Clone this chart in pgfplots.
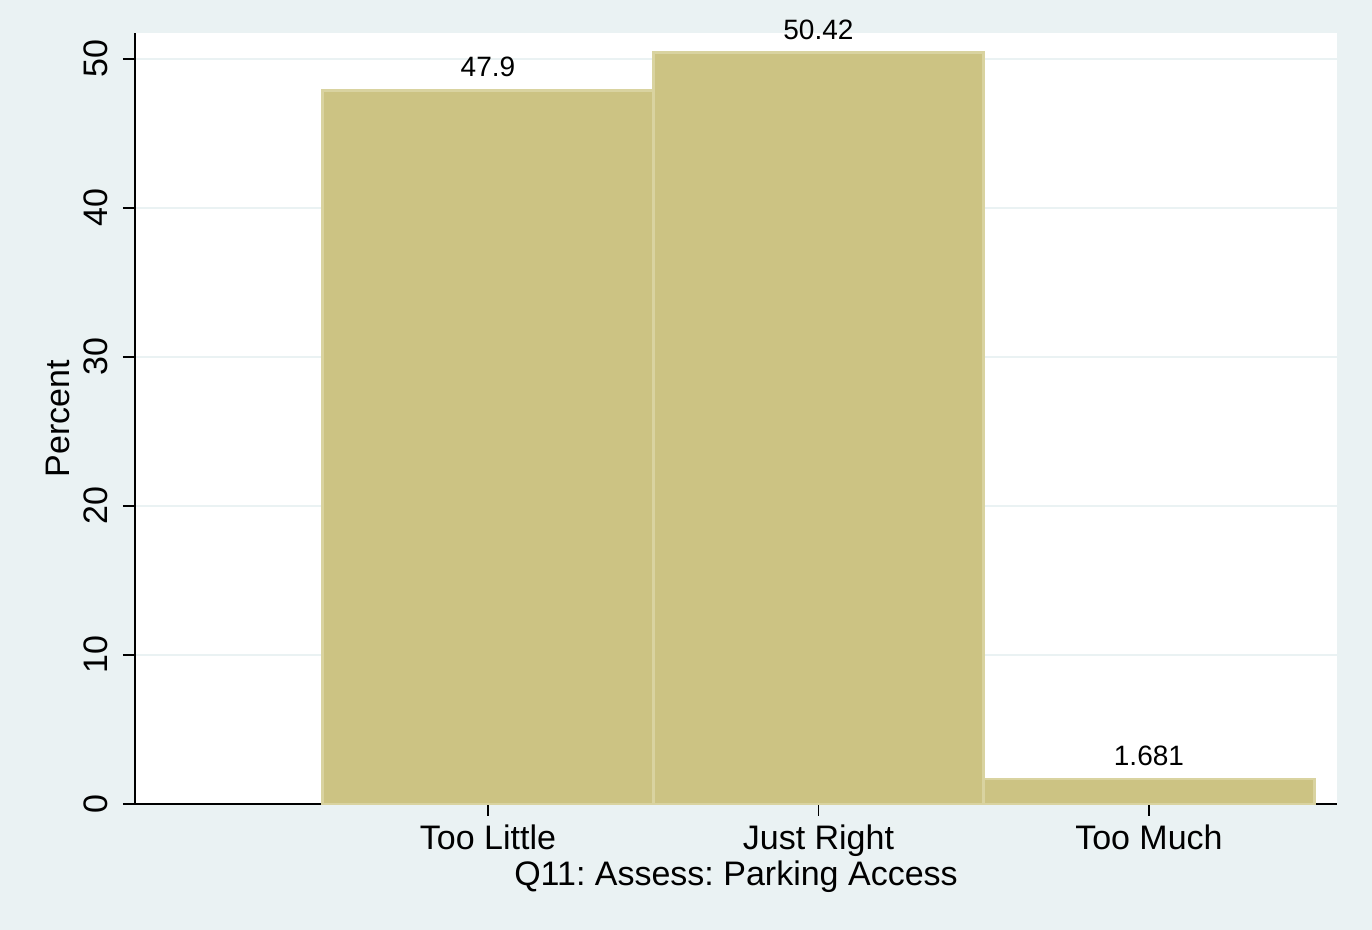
\documentclass[border=0pt]{standalone}
\usepackage{pgfplots}
\pgfplotsset{compat=1.18}
\usepackage{fontspec}
\setmainfont{Liberation Sans}
\frenchspacing
\definecolor{bgc}{RGB}{234,242,243}
\definecolor{barfill}{RGB}{204,195,131}
\definecolor{baredge}{RGB}{217,211,160}
\begin{document}
\begin{tikzpicture}
\fill[bgc] (0,0) rectangle (686pt,465pt);
\useasboundingbox (0,0) rectangle (686pt,465pt);
\begin{axis}[
  at={(67.5pt,63pt)}, anchor=south west,
  scale only axis, width=601pt, height=385.5pt,
  xmin=-0.068, xmax=3.569, ymin=0, ymax=51.74,
  axis x line*=bottom, axis y line*=left,
  axis line style={line width=0.75pt, black, -},
  axis background/.style={fill=white},
  tick style={line width=0.75pt, black},
  tick align=outside, major tick length=6pt,
  xtick={1,2,3}, xticklabels={Too Little, Just Right, Too Much},
  ytick={0,10,20,30,40,50},
  ymajorgrids, major grid style={line width=1pt, color=bgc},
  /pgf/number format/assume math mode=true,
  ticklabel style={font=\fontsize{17}{20}\selectfont},
  yticklabel style={rotate=90, anchor=south},
  yticklabel shift=4pt,
  xticklabel style={yshift=-1pt},
  ylabel={Percent}, xlabel={Q11: Assess: Parking Access},
  label style={font=\fontsize{17}{20}\selectfont},
  ylabel style={yshift=0pt},
  xlabel style={yshift=5pt},
  clip=false,
]
\addplot[ybar, bar width=1, bar shift=0pt, fill=barfill, draw=baredge, line width=1.4pt,
  nodes near coords, point meta=explicit symbolic,
  every node near coord/.append style={font=\fontsize{14}{16}\selectfont, black, yshift=2.5pt}]
  table[meta=lab] {
x y lab
1 47.90 47.9
2 50.42 50.42
3 1.681 1.681
};
\end{axis}
\end{tikzpicture}
\end{document}
